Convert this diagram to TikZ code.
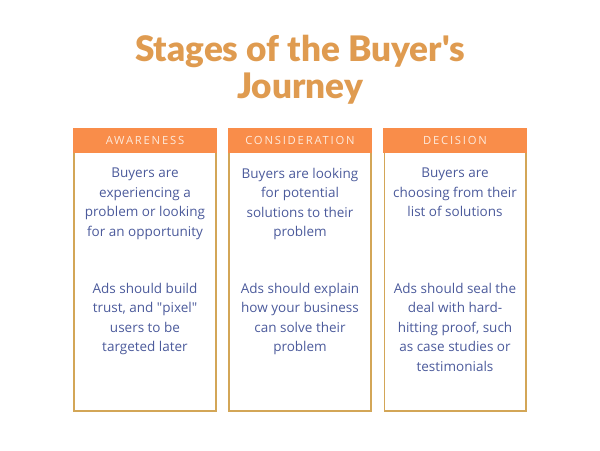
\documentclass[tikz,border=0pt]{standalone}
\usepackage{fontspec}
\setmainfont{Open Sans}
\newfontfamily\titlefont{Lato}[BoldFont={Lato Black}]
\newfontfamily\headfont[LetterSpace=16]{Open Sans}
\usepackage{tikz}
\usetikzlibrary{positioning}

\definecolor{headorange}{HTML}{F98D4A}
\definecolor{frame}{HTML}{D3A657}
\definecolor{titlegold}{HTML}{DF9B50}
\definecolor{bodyblue}{HTML}{4B5A9B}
\definecolor{headtext}{HTML}{FDEADC}

\tikzset{
    stagebox/.style={draw=frame, line width=1.4pt, minimum width=3.525cm, minimum height=7.05cm, anchor=north, inner sep=0pt},
    stagehead/.style={fill=headorange, minimum width=3.575cm, minimum height=0.625cm, anchor=north, inner sep=0pt,
        text=headtext, font=\headfont\fontsize{8}{9}\selectfont},
    stagetext/.style={anchor=north, inner sep=0pt, align=center, text=bodyblue, font=\fontsize{9.6}{13.8}\selectfont}
}

\begin{document}
\begin{tikzpicture}[x=0.025cm, y=-0.025cm]
        \useasboundingbox (0,0) rectangle (600,450);

        % title
        \node[align=center, text=titlegold, font=\titlefont\bfseries\fontsize{25}{26.3}\selectfont] (title) at (300,70) {Stages of the Buyer's\\Journey};

        % frames
        \node[stagebox] (aware) at (145,128) {};
        \node[stagebox] (consid) at (300,128) {};
        \node[stagebox] (decis) at (455,128) {};

        % headers
        \node[stagehead] (awareHd) at (aware.north) {AWARENESS};
        \node[stagehead] (considHd) at (consid.north) {CONSIDERATION};
        \node[stagehead] (decisHd) at (decis.north) {DECISION};

        % texts
        \node[stagetext] (awareBuy) at (145,168) {Buyers are\\experiencing a\\problem or looking\\for an opportunity};
        \node[stagetext] (awareAds) at (145,283) {Ads should build\\trust, and \textquotedbl pixel\textquotedbl\\users to be\\targeted later};

        \node[stagetext] (considBuy) at (300,168) {Buyers are looking\\for potential\\solutions to their\\problem};
        \node[stagetext] (considAds) at (300,283) {Ads should explain\\how your business\\can solve their\\problem};

        \node[stagetext] (decisBuy) at (455,168) {Buyers are\\choosing from their\\list of solutions};
        \node[stagetext] (decisAds) at (455,283) {Ads should seal the\\deal with hard-\\hitting proof, such\\as case studies or\\testimonials};
    \end{tikzpicture}
\end{document}
